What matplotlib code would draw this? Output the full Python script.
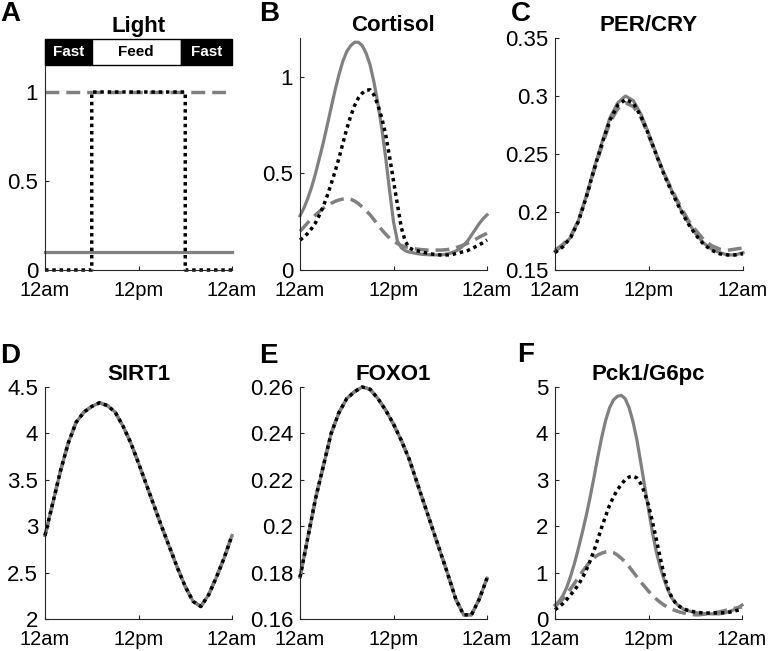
import numpy as np
import matplotlib
matplotlib.use('Agg')
import matplotlib.pyplot as plt
from matplotlib.patches import Rectangle
from matplotlib.ticker import FormatStrFormatter

plt.rcParams['font.family'] = ['Liberation Sans', 'DejaVu Sans']

##==========================================
# data
##==========================================
hours = np.arange(0, 25)            # hourly samples
hours_half = np.arange(0, 24.5, 0.5)  # half-hourly samples (B and F)

# A: light input
light_hours = [0, 5.999, 6, 18, 18.001, 24]
light_dim = [0.1, 0.1, 0.1, 0.1, 0.1, 0.1]
light_on = [1, 1, 1, 1, 1, 1]
light_cycle = [0, 0, 1, 1, 0, 0]
fast_feed = [(0, 6, 'Fast'), (6, 17.4, 'Feed'), (17.4, 24, 'Fast')]

# B: cortisol (half-hourly)
cort_solid = [0.28, 0.32, 0.37, 0.43, 0.50, 0.58, 0.66, 0.75, 0.84, 0.93, 1.01, 1.08, 1.13,
              1.16, 1.178, 1.178, 1.16, 1.12, 1.06, 0.97, 0.86, 0.73, 0.58, 0.41, 0.25, 0.15,
              0.115, 0.10, 0.093, 0.089, 0.085, 0.082, 0.08, 0.079, 0.078, 0.078, 0.078, 0.08,
              0.084, 0.09, 0.098, 0.11, 0.128, 0.15, 0.18, 0.21, 0.24, 0.265, 0.285]
cort_dash = [0.20, 0.222, 0.245, 0.265, 0.285, 0.303, 0.32, 0.333, 0.345, 0.355, 0.362, 0.367,
             0.37, 0.366, 0.357, 0.343, 0.325, 0.306, 0.285, 0.26, 0.233, 0.208, 0.185, 0.165,
             0.15, 0.137, 0.127, 0.12, 0.115, 0.111, 0.108, 0.106, 0.104, 0.103, 0.103, 0.103,
             0.103, 0.104, 0.106, 0.11, 0.115, 0.122, 0.13, 0.138, 0.148, 0.158, 0.17, 0.18, 0.19]
cort_dot = [0.155, 0.17, 0.19, 0.215, 0.245, 0.285, 0.33, 0.385, 0.445, 0.51, 0.578, 0.655,
            0.73, 0.795, 0.85, 0.89, 0.915, 0.93, 0.932, 0.905, 0.853, 0.785, 0.70, 0.585, 0.46,
            0.34, 0.22, 0.15, 0.115, 0.105, 0.10, 0.095, 0.09, 0.086, 0.082, 0.08, 0.078, 0.078,
            0.078, 0.08, 0.085, 0.09, 0.095, 0.10, 0.11, 0.12, 0.13, 0.142, 0.155]

# C: PER/CRY (hourly)
per_solid = [0.166, 0.171, 0.178, 0.193, 0.214, 0.238, 0.26, 0.281, 0.294, 0.300, 0.296, 0.284,
             0.267, 0.249, 0.232, 0.217, 0.203, 0.191, 0.181, 0.173, 0.168, 0.165, 0.163, 0.163, 0.165]
per_dash = [0.167, 0.172, 0.179, 0.193, 0.213, 0.236, 0.257, 0.277, 0.289, 0.294, 0.291, 0.281,
            0.265, 0.248, 0.232, 0.218, 0.205, 0.193, 0.184, 0.176, 0.171, 0.168, 0.167, 0.168, 0.169]
per_dot = [0.165, 0.170, 0.178, 0.192, 0.213, 0.237, 0.259, 0.279, 0.292, 0.297, 0.294, 0.282,
           0.266, 0.248, 0.231, 0.216, 0.202, 0.190, 0.180, 0.172, 0.167, 0.164, 0.163, 0.163, 0.164]

# D: SIRT1 (hourly, all three conditions overlap)
sirt1 = [2.9, 3.25, 3.6, 3.9, 4.12, 4.23, 4.29, 4.33, 4.3, 4.23, 4.08, 3.9, 3.68, 3.45, 3.22,
         2.99, 2.77, 2.55, 2.35, 2.19, 2.135, 2.26, 2.45, 2.66, 2.9]

# E: FOXO1 (hourly, all three conditions overlap)
foxo1 = [0.178, 0.195, 0.212, 0.226, 0.24, 0.249, 0.255, 0.258, 0.26, 0.259, 0.255, 0.25, 0.244,
         0.237, 0.229, 0.219, 0.209, 0.199, 0.189, 0.179, 0.1685, 0.1618, 0.1618, 0.1685, 0.1776]

# F: Pck1/G6pc (half-hourly)
pck_solid = [0.3, 0.38, 0.5, 0.68, 0.92, 1.2, 1.52, 1.86, 2.22, 2.62, 3.05, 3.5, 3.92, 4.28,
             4.55, 4.72, 4.8, 4.82, 4.75, 4.56, 4.26, 3.87, 3.38, 2.87, 2.36, 1.87, 1.45, 1.12,
             0.85, 0.62, 0.45, 0.34, 0.27, 0.21, 0.18, 0.16, 0.14, 0.13, 0.12, 0.115, 0.11, 0.11,
             0.11, 0.12, 0.14, 0.17, 0.2, 0.25, 0.3]
pck_dash = [0.27, 0.35, 0.43, 0.54, 0.65, 0.77, 0.9, 1.02, 1.13, 1.23, 1.32, 1.38, 1.42, 1.445,
            1.45, 1.43, 1.38, 1.31, 1.23, 1.13, 1.02, 0.91, 0.8, 0.7, 0.6, 0.51, 0.43, 0.36, 0.3,
            0.25, 0.21, 0.18, 0.15, 0.13, 0.11, 0.1, 0.09, 0.09, 0.1, 0.11, 0.12, 0.13, 0.15,
            0.17, 0.19, 0.21, 0.23, 0.245, 0.26]
pck_dot = [0.2, 0.26, 0.33, 0.42, 0.52, 0.62, 0.74, 0.88, 1.05, 1.25, 1.47, 1.72, 1.98, 2.22,
           2.45, 2.63, 2.78, 2.9, 3.0, 3.06, 3.08, 3.04, 2.92, 2.72, 2.45, 2.1, 1.72, 1.32, 0.95,
           0.66, 0.46, 0.34, 0.27, 0.22, 0.19, 0.17, 0.15, 0.14, 0.13, 0.13, 0.13, 0.13, 0.13,
           0.135, 0.14, 0.15, 0.17, 0.19, 0.21]

xticks = [0, 12, 24]
xticklabels = ['12am', '12pm', '12am']

##==========================================
# layout
##==========================================
W, H = 771, 651
fig = plt.figure(figsize=(W/100, H/100), dpi=100)

def pix_axes(l, r, t, b):
    return fig.add_axes([l/W, 1 - b/H, (r - l)/W, (b - t)/H])

gray = '#808080'
axcol = '#262626'

def style(ax, title, ylim, yticks):
    ax.set_xlim(0, 24)
    ax.set_ylim(*ylim)
    ax.set_xticks(xticks)
    ax.set_xticklabels(xticklabels)
    ax.set_yticks(yticks)
    ax.yaxis.set_major_formatter(FormatStrFormatter('%g'))
    for s in ['top', 'right']:
        ax.spines[s].set_visible(False)
    for s in ['left', 'bottom']:
        ax.spines[s].set_color(axcol)
        ax.spines[s].set_linewidth(0.8)
    ax.tick_params(direction='in', length=3, width=0.8, color=axcol, labelcolor='black')
    ax.tick_params(axis='x', pad=8, labelsize=14.5)
    ax.tick_params(axis='y', pad=5, labelsize=16)
    ax.set_title(title, fontsize=16, fontweight='bold', pad=5)

def three(ax, t, solid, dash, dot):
    ax.plot(t, solid, color=gray, lw=2.3, clip_on=False)
    ax.plot(t, dash, color=gray, lw=2.5, ls=(0, (4, 2)), clip_on=False)
    ax.plot(t, dot, color='black', lw=2.5, ls=(0, (1, 1.1)), clip_on=False)

# A
axA = pix_axes(45, 232, 38.6, 270)
three(axA, light_hours, light_dim, light_on, light_cycle)
style(axA, 'Light', (0, 1.3), [0, 0.5, 1])
for x0, x1, lab in fast_feed:
    fc = 'black' if lab == 'Fast' else 'white'
    tc = 'white' if lab == 'Fast' else 'black'
    axA.add_patch(Rectangle((x0, 1.15), x1 - x0, 0.15, facecolor=fc, edgecolor='black',
                            lw=1, clip_on=False, zorder=5))
    axA.text((x0 + x1) / 2, 1.225, lab, color=tc, fontsize=11, fontweight='bold',
             ha='center', va='center', zorder=6)

# B
axB = pix_axes(300, 487, 38, 270)
three(axB, hours_half, cort_solid, cort_dash, cort_dot)
style(axB, 'Cortisol', (0, 1.2), [0, 0.5, 1])

# C
axC = pix_axes(555, 743, 38, 270)
three(axC, hours, per_solid, per_dash, per_dot)
style(axC, 'PER/CRY', (0.15, 0.35), [0.15, 0.2, 0.25, 0.3, 0.35])

# D
axD = pix_axes(45, 232, 387, 619)
three(axD, hours, sirt1, sirt1, sirt1)
style(axD, 'SIRT1', (2, 4.5), [2, 2.5, 3, 3.5, 4, 4.5])

# E
axE = pix_axes(300, 487, 387, 619)
three(axE, hours, foxo1, foxo1, foxo1)
style(axE, 'FOXO1', (0.16, 0.26), [0.16, 0.18, 0.2, 0.22, 0.24, 0.26])

# F
axF = pix_axes(555, 742, 387, 619)
three(axF, hours_half, pck_solid, pck_dash, pck_dot)
style(axF, 'Pck1/G6pc', (0, 5), [0, 1, 2, 3, 4, 5])

# panel letters
for lab, x, y in [('A', 0, 1), ('B', 259, 1), ('C', 511, 1),
                  ('D', 0, 343), ('E', 259, 343), ('F', 517, 342)]:
    fig.text(x/W, 1 - y/H, lab, fontsize=20, fontweight='bold', ha='left', va='top')

plt.savefig('out.png', dpi=100)
